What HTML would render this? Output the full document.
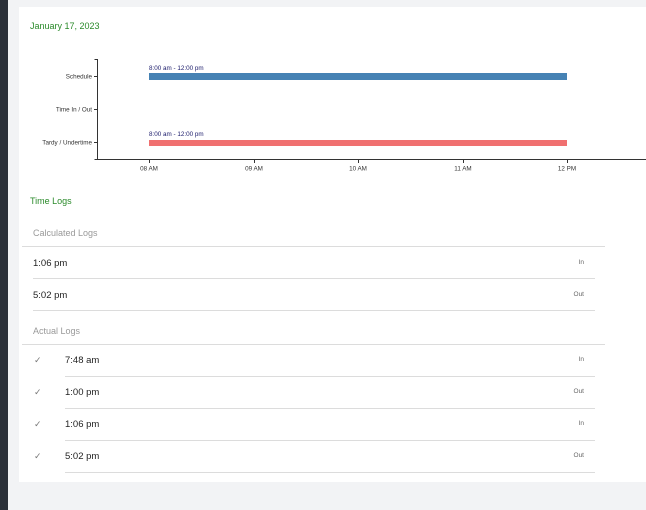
<!DOCTYPE html><html><head><style>
body{margin:0;width:646px;height:510px;background:#f2f3f5;position:relative;overflow:hidden;font-family:"Liberation Sans",sans-serif}
.sb{position:absolute;left:0;top:0;width:8px;height:510px;background:#2b3038}
.card{position:absolute;left:19px;top:7px;width:627px;height:475px;background:#fff}
.t{position:absolute;white-space:nowrap}
.ln{position:absolute;height:1px;background:#dcdcdc}
.g{color:#2a8a2a;font-size:9px}
.h{color:#999;font-size:9px}
.v{color:#222;font-size:9.5px}
.io{color:#666;font-size:6.5px;text-align:right;width:40px}
.ck{color:#777;font-size:9px}
</style></head><body>
<div class="sb"></div><div class="card"></div>
<div class="t g" style="left:30px;top:21px">January 17, 2023</div>
<svg style="position:absolute;left:0;top:0" width="646" height="180" font-family="Liberation Sans" font-size="6.3">
<g stroke="#333" stroke-width="1" fill="none">
<path d="M94.5 59.5H97.5V159.5H94.5"/><path d="M97.5 159.5H646"/>
<path d="M94 76.5H97M94 109.5H97M94 142.5H97"/>
<path d="M149.5 159V163M254.5 159V163M358.5 159V163M463.5 159V163M567.5 159V163"/>
</g>
<g fill="#333" text-anchor="end"><text x="92" y="78.5">Schedule</text><text x="92" y="111.5">Time In / Out</text><text x="92" y="144.5">Tardy / Undertime</text></g>
<g fill="#333" text-anchor="middle"><text x="149" y="170.5">08 AM</text><text x="254" y="170.5">09 AM</text><text x="358" y="170.5">10 AM</text><text x="463" y="170.5">11 AM</text><text x="567" y="170.5">12 PM</text></g>
<rect x="149" y="73" width="418" height="7" fill="#4682b4"/>
<rect x="149" y="140" width="418" height="6" fill="#f07070"/>
<g fill="#1a1a6a"><text x="149" y="70">8:00 am - 12:00 pm</text><text x="149" y="136">8:00 am - 12:00 pm</text></g>
</svg>
<div class="t g" style="left:30px;top:196px">Time Logs</div>
<div class="t h" style="left:33px;top:228px">Calculated Logs</div>
<div class="ln" style="left:22px;top:246px;width:583px"></div>
<div class="t v" style="left:33px;top:258px">1:06 pm</div><div class="t io" style="left:544px;top:259px">In</div>
<div class="ln" style="left:33px;top:278px;width:562px"></div>
<div class="t v" style="left:33px;top:290px">5:02 pm</div><div class="t io" style="left:544px;top:291px">Out</div>
<div class="ln" style="left:33px;top:310px;width:562px"></div>
<div class="t h" style="left:33px;top:326px">Actual Logs</div>
<div class="ln" style="left:22px;top:344px;width:583px"></div>
<div class="t ck" style="left:34px;top:355px">✓</div><div class="t v" style="left:65px;top:355px">7:48 am</div><div class="t io" style="left:544px;top:356px">In</div>
<div class="ln" style="left:65px;top:376px;width:530px"></div>
<div class="t ck" style="left:34px;top:387px">✓</div><div class="t v" style="left:65px;top:387px">1:00 pm</div><div class="t io" style="left:544px;top:388px">Out</div>
<div class="ln" style="left:65px;top:408px;width:530px"></div>
<div class="t ck" style="left:34px;top:419px">✓</div><div class="t v" style="left:65px;top:419px">1:06 pm</div><div class="t io" style="left:544px;top:420px">In</div>
<div class="ln" style="left:65px;top:440px;width:530px"></div>
<div class="t ck" style="left:34px;top:451px">✓</div><div class="t v" style="left:65px;top:451px">5:02 pm</div><div class="t io" style="left:544px;top:452px">Out</div>
<div class="ln" style="left:65px;top:472px;width:530px"></div>
</body></html>
